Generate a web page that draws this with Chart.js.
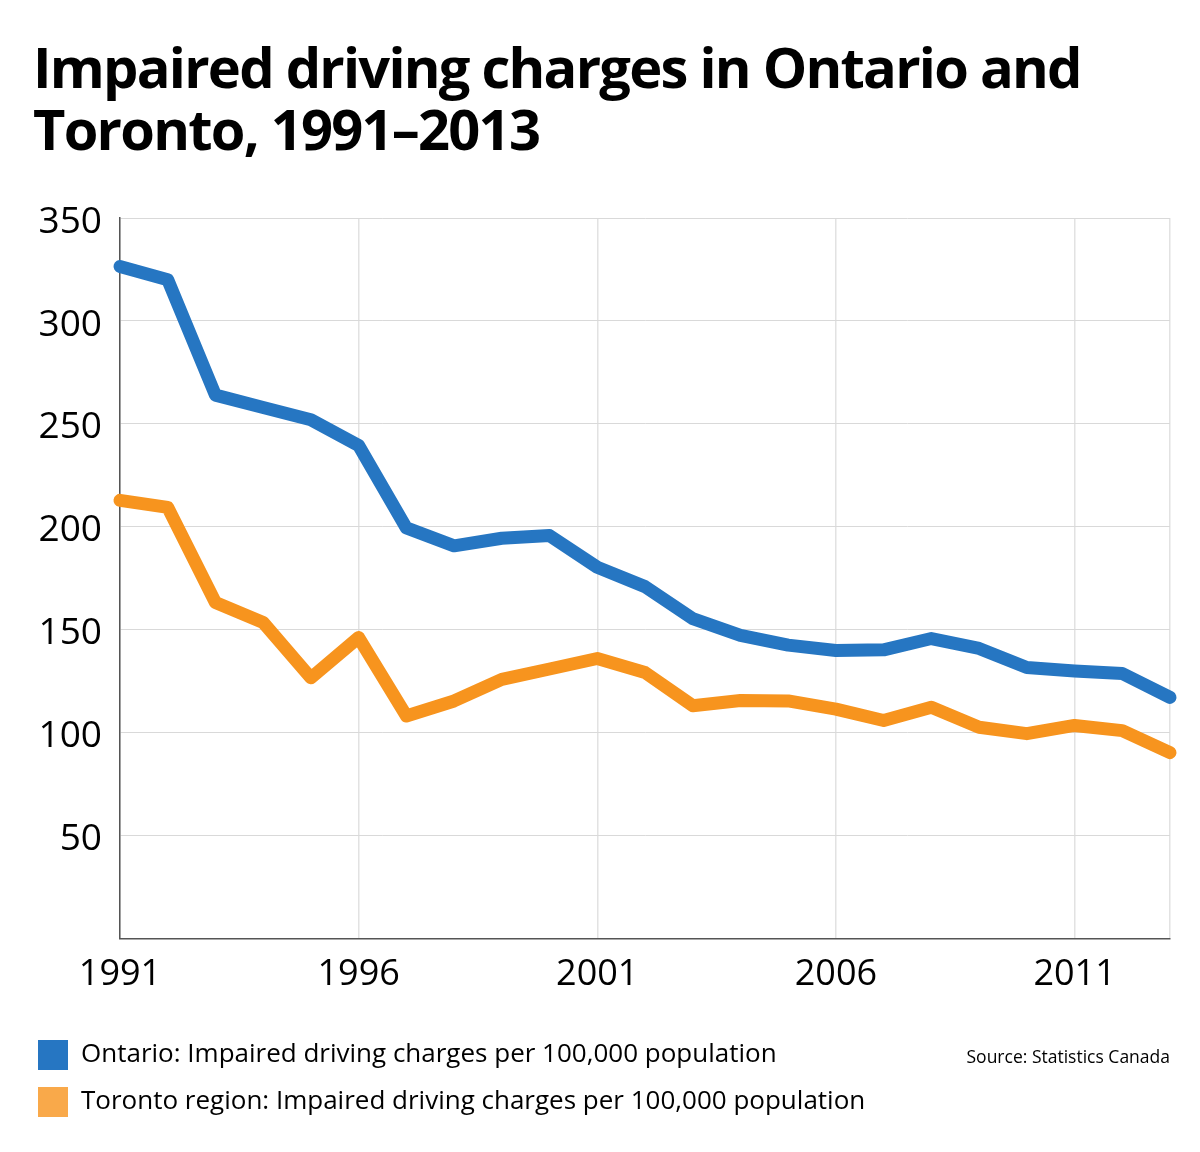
<!DOCTYPE html>
<html>
<head>
<meta charset="utf-8">
<script src="https://cdn.jsdelivr.net/npm/chart.js@4.4.1/dist/chart.umd.min.js"></script>
<style>
  body { margin: 0; background: #fff; }
  #wrap { position: relative; width: 1200px; height: 1152px; }
  #title {
    position: absolute; left: 33px; top: 35px;
    font-family: "Open Sans", sans-serif; font-weight: 700;
    font-size: 56px; line-height: 62px; letter-spacing: -1.75px; color: #000;
  }
  #source {
    position: absolute; right: 30px; top: 1044px;
    font-family: "Open Sans", sans-serif; font-size: 17.5px; color: #000;
  }
  canvas { position: absolute; left: 0; top: 0; }
</style>
</head>
<body>
<div id="wrap">
  <canvas id="chart" width="1200" height="1152"></canvas>
  <div id="title">Impaired driving charges in Ontario and<br>Toronto, 1991–2013</div>
  <div id="source">Source: Statistics Canada</div>
</div>
<script>
var years = ['1991', '1992', '1993', '1994', '1995', '1996', '1997', '1998', '1999', '2000', '2001', '2002',
             '2003', '2004', '2005', '2006', '2007', '2008', '2009', '2010', '2011', '2012', '2013'];

var ontario = [326.5, 320, 264, 258, 252, 239.5, 199.5, 190.8, 194.5, 195.8, 180.4, 171,
               155.5, 147.3, 142.6, 140, 140.3, 145.8, 141, 131.7, 130, 128.8, 117.2];

var toronto = [212.9, 209.5, 163.3, 153.6, 126.7, 146.3, 108.2, 115.5, 126, 131, 136.1, 129.3,
               113.2, 115.7, 115.5, 111.5, 106, 112.4, 102.7, 99.6, 103.6, 101.1, 90.4];

var labelOntario = 'Ontario: Impaired driving charges per 100,000 population';
var labelToronto = 'Toronto region: Impaired driving charges per 100,000 population';

var fontName = '"Open Sans", sans-serif';

var datos = {
    labels: years,
    datasets: [
        {
            label: labelOntario,
            data: ontario,
            borderColor: '#2676c2',
            backgroundColor: '#2676c2',
            borderWidth: 13,
            pointRadius: 0,
            borderCapStyle: 'round',
            borderJoinStyle: 'round',
            clip: false
        },
        {
            label: labelToronto,
            data: toronto,
            borderColor: '#f7941e',
            backgroundColor: '#f9a94a',
            borderWidth: 13,
            pointRadius: 0,
            borderCapStyle: 'round',
            borderJoinStyle: 'round',
            clip: false
        }
    ]
};

var opciones = {
    responsive: false,
    animation: false,
    layout: {
        padding: { left: 21, right: 30, top: 218, bottom: 25 }
    },
    plugins: {
        title: { display: false },
        tooltip: { enabled: false },
        legend: {
            position: 'bottom',
            align: 'start',
            labels: {
                boxWidth: 30,
                boxHeight: 30,
                padding: 17,
                color: '#000',
                font: { family: fontName, size: 26 },
                generateLabels: function (chart) {
                    var items = Chart.defaults.plugins.legend.labels.generateLabels(chart);
                    items.forEach(function (it) {
                        it.lineWidth = 0;
                        it.strokeStyle = 'rgba(0,0,0,0)';
                    });
                    return items;
                }
            }
        }
    },
    scales: {
        x: {
            offset: false,
            afterFit: function (s) { s.height = s.height + 13; },
            border: { color: '#555', width: 1.5 },
            grid: {
                drawTicks: false,
                color: function (ctx) {
                    var i = ctx.index;
                    return (i % 5 === 0 || i === years.length - 1) ? '#e2e2e2' : 'rgba(0,0,0,0)';
                },
                lineWidth: 1.5
            },
            ticks: {
                autoSkip: false,
                maxRotation: 0,
                padding: 14,
                color: '#000',
                font: { family: fontName, size: 36 },
                callback: function (v, i) {
                    return i % 5 === 0 ? years[i] : '';
                }
            }
        },
        y: {
            min: 0,
            max: 350,
            afterFit: function (s) { s.width = 99; },
            border: { color: '#555', width: 1.5 },
            grid: { drawTicks: false, color: '#d9d9d9', lineWidth: 1 },
            ticks: {
                stepSize: 50,
                padding: 18,
                labelOffset: 4,
                color: '#000',
                font: { family: fontName, size: 37 },
                callback: function (v) { return v === 0 ? '' : v; }
            }
        }
    }
};

var contexto = document.getElementById('chart').getContext('2d');
var grafico = new Chart(contexto, {
    type: 'line',
    data: datos,
    options: opciones
});
</script>
</body>
</html>
